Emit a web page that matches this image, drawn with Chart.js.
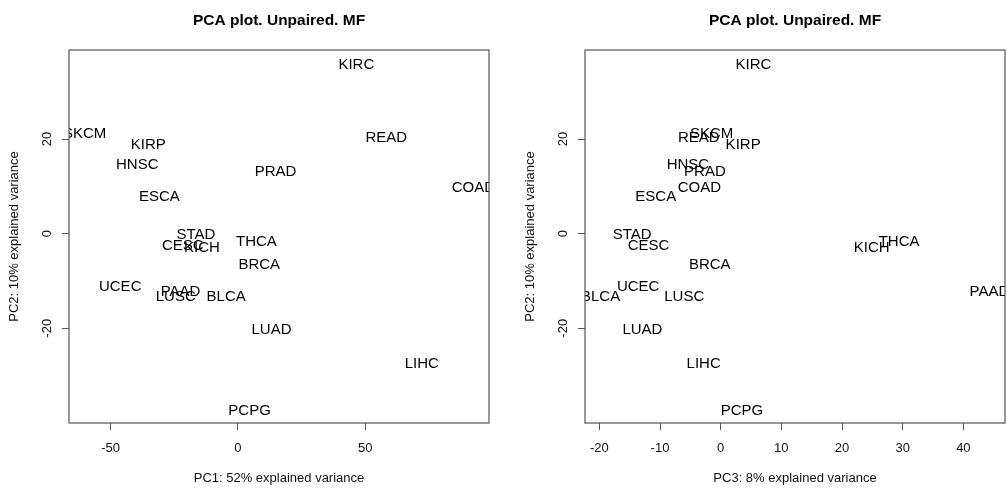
<!DOCTYPE html>
<html>
<head>
<meta charset="utf-8">
<script src="https://cdn.jsdelivr.net/npm/chart.js@4/dist/chart.umd.min.js"></script>
<style>
  body{margin:0;background:#fff;}
  #wrap{position:relative;width:1007px;height:488px;}
  canvas{position:absolute;top:0;}
</style>
</head>
<body>
<div id="wrap">
  <canvas id="pc12" width="503" height="488" style="left:0"></canvas>
  <canvas id="pc32" width="491" height="488" style="left:516px"></canvas>
</div>
<script>
const tumours = ['BLCA','BRCA','CESC','COAD','ESCA','HNSC','KICH','KIRC','KIRP','LIHC',
                 'LUAD','LUSC','PAAD','PCPG','PRAD','READ','SKCM','STAD','THCA','UCEC'];
const pc1 = [-4.6, 8.4, -21.6, 92.5, -30.8, -39.5, -14.1, 46.5, -35.2, 72.2,
             13.2, -24.4, -22.5, 4.6, 14.8, 58.3, -60.2, -16.5, 7.3, -46.2];
const pc2 = [-13.0, -6.4, -2.3, 10.0, 8.1, 14.8, -2.8, 35.9, 19.0, -27.3,
             -20.1, -13.0, -12.0, -37.1, 13.4, 20.6, 21.3, 0.0, -1.5, -10.9];
const pc3 = [-19.8, -1.8, -11.9, -3.5, -10.7, -5.4, 24.9, 5.4, 3.7, -2.8,
             -12.9, -6.0, 44.3, 3.5, -2.6, -3.6, -1.5, -14.6, 29.4, -13.6];
const pc1Ticks = [-50, 0, 50];
const pc2Ticks = [-20, 0, 20];
const pc3Ticks = [-20, -10, 0, 10, 20, 30, 40];

const FONT = "'Liberation Sans', Arial, Helvetica, sans-serif";
const LABEL_SIZE = 15;

// base-R style limits: data range widened by 4% at each end
const rLim = v => { const lo = Math.min(...v), hi = Math.max(...v), d = (hi-lo)*0.04; return [lo-d, hi+d]; };

// names written at the points (clipped to the plot region) plus the box
const textPoints = {
  id: 'textPoints',
  afterDatasetsDraw(chart){
    const {ctx, chartArea: a} = chart;
    const meta = chart.getDatasetMeta(0);
    ctx.save();
    ctx.beginPath(); ctx.rect(a.left, a.top, a.right-a.left, a.bottom-a.top); ctx.clip();
    ctx.font = LABEL_SIZE + 'px ' + FONT; ctx.fillStyle = '#000';
    ctx.textAlign = 'center'; ctx.textBaseline = 'alphabetic';
    // centre the capitals on the point
    const half = LABEL_SIZE * 0.729 / 2;
    meta.data.forEach((pt, i) => ctx.fillText(chart.data.labels[i], pt.x, pt.y + half));
    ctx.restore();
    ctx.save();
    ctx.strokeStyle = '#555'; ctx.lineWidth = 1.2;
    ctx.strokeRect(a.left, a.top, a.right-a.left, a.bottom-a.top);
    ctx.restore();
  }
};

const pcaPlot = (id, xs, ys, xTicks, yTicks, xTitle, padRight) => {
  const [xmin, xmax] = rLim(xs), [ymin, ymax] = rLim(ys);
  const axisFont = {family: FONT, size: 13};
  const tickGrid = {drawOnChartArea: false, drawTicks: true, tickLength: 7, color: '#555'};
  return new Chart(document.getElementById(id), {
    type: 'scatter',
    data: {
      labels: tumours,
      datasets: [{ data: xs.map((x, i) => ({x, y: ys[i]})), pointRadius: 0, pointHoverRadius: 0 }]
    },
    options: {
      responsive: false, animation: false,
      layout: {padding: {left: 0, right: padRight, top: 0, bottom: 0}},
      plugins: {
        legend: {display: false}, tooltip: {enabled: false},
        title: {display: true, text: 'PCA plot. Unpaired. MF', fullSize: false, color: '#000',
                font: {family: FONT, size: 15.5, weight: 'bold'}, padding: {top: 11, bottom: 20.4}}
      },
      scales: {
        x: {
          type: 'linear', min: xmin, max: xmax,
          afterBuildTicks: s => { s.ticks = xTicks.map(v => ({value: v})); },
          afterFit: s => { s.height = 65; },
          grid: tickGrid, border: {display: false},
          ticks: {color: '#111', font: axisFont, padding: 10.5, maxRotation: 0, autoSkip: false},
          title: {display: true, text: xTitle, color: '#111', font: axisFont, padding: {top: 0, bottom: 2}}
        },
        y: {
          type: 'linear', min: ymin, max: ymax,
          afterBuildTicks: s => { s.ticks = yTicks.map(v => ({value: v})); },
          afterFit: s => { s.width = 69; },
          grid: tickGrid, border: {display: false},
          ticks: {color: '#111', font: axisFont, padding: 5, minRotation: 90, maxRotation: 90,
                  crossAlign: 'center', autoSkip: false},
          title: {display: true, text: 'PC2: 10% explained variance', color: '#111', font: axisFont,
                  padding: {top: 6.2, bottom: 0}}
        }
      }
    },
    plugins: [textPoints]
  });
};

pcaPlot('pc12', pc1, pc2, pc1Ticks, pc2Ticks, 'PC1: 52% explained variance', 14);
pcaPlot('pc32', pc3, pc2, pc3Ticks, pc2Ticks, 'PC3: 8% explained variance', 2);
</script>
</body>
</html>
